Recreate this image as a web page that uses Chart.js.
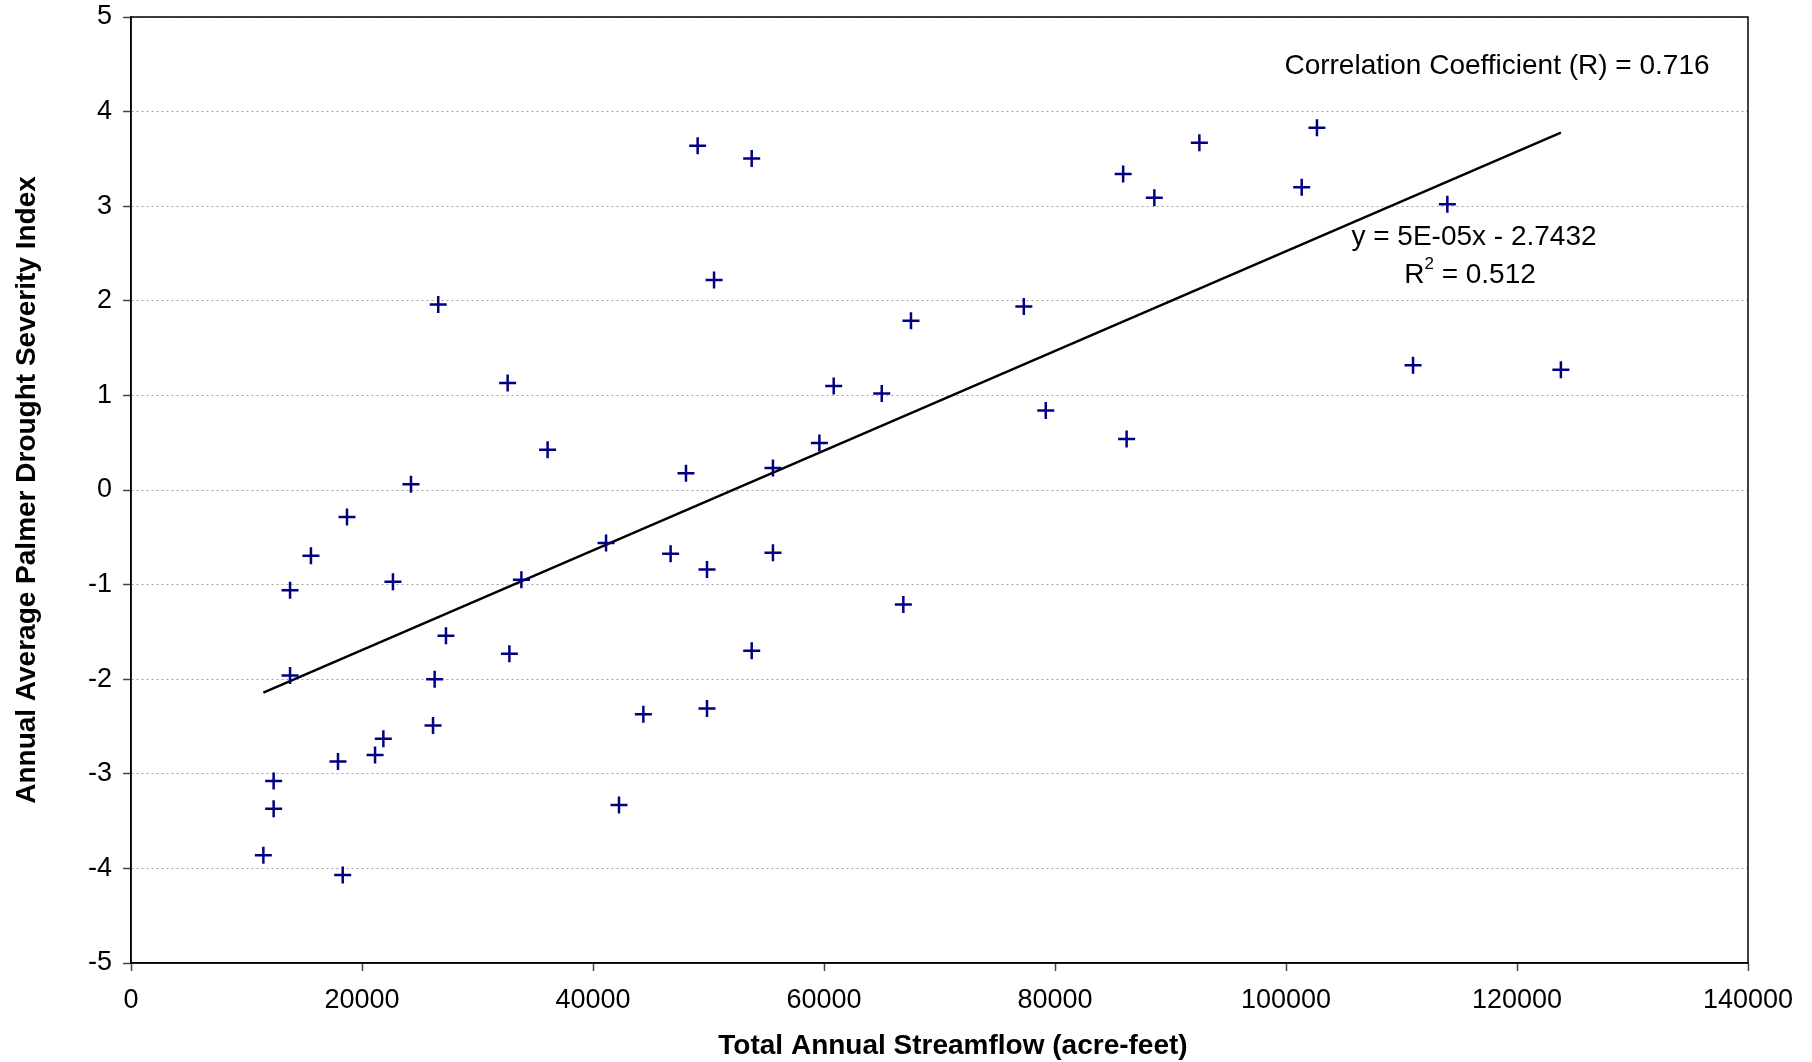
<!DOCTYPE html>
<html>
<head>
<meta charset="utf-8">
<script src="https://cdn.jsdelivr.net/npm/chart.js@4/dist/chart.umd.min.js"></script>
<style>
  html, body { margin: 0; padding: 0; background: #fff; }
  #wrap { width: 1812px; height: 1062px; position: relative; }
</style>
</head>
<body>
<div id="wrap"><canvas id="chart" width="1812" height="1062"></canvas></div>
<script>
// Total annual streamflow (acre-feet) for each year
const streamflow = [11460, 12350, 12350, 13770, 13770, 15580, 17920, 18330, 18700, 21130,
  21850, 22680, 24240, 26150, 26290, 26600, 27270, 32610, 32760, 33800,
  36070, 41130, 42250, 44360, 46720, 48050, 49060, 49870, 49870, 50480,
  53740, 53740, 55580, 55580, 59600, 60840, 65000, 66870, 67530, 77300,
  79200, 85900, 86200, 88600, 92500, 101360, 102680, 111000, 113970, 123800];

// Annual average Palmer Drought Severity Index for the same years
const pdsi = [-3.86, -3.075, -3.37, -1.06, -1.96, -0.695, -2.87, -4.07, -0.285, -2.80,
  -2.63, -0.97, 0.06, -2.49, -2.00, 1.96, -1.54, 1.13, -1.73, -0.95,
  0.425, -0.56, -3.33, -2.37, -0.675, 0.177, 3.64, -0.84, -2.31, 2.22,
  3.505, -1.70, 0.233, -0.664, 0.496, 1.10, 1.02, -1.21, 1.79, 1.94,
  0.84, 3.34, 0.54, 3.09, 3.67, 3.20, 3.83, 1.32, 3.02, 1.27];

const xTicks = [0, 20000, 40000, 60000, 80000, 100000, 120000, 140000];
const yTicks = [-5, -4, -3, -2, -1, 0, 1, 2, 3, 4, 5];

const FONT = '"Liberation Sans", Arial, sans-serif';

// Least squares fit of the points for the trendline
function linearFit(xs, ys) {
  const n = xs.length;
  const mx = xs.reduce((a, b) => a + b, 0) / n;
  const my = ys.reduce((a, b) => a + b, 0) / n;
  let sxy = 0, sxx = 0;
  for (let i = 0; i < n; i++) {
    sxy += (xs[i] - mx) * (ys[i] - my);
    sxx += (xs[i] - mx) * (xs[i] - mx);
  }
  const slope = sxy / sxx;
  return { slope, intercept: my - slope * mx };
}

const fit = linearFit(streamflow, pdsi);
const xMin = Math.min(...streamflow), xMax = Math.max(...streamflow);
const trend = [xMin, xMax].map(x => ({ x, y: fit.slope * x + fit.intercept }));
const points = streamflow.map((x, i) => ({ x, y: pdsi[i] }));

// Plot frame, x axis title and the text annotations
const frameAndNotes = {
  id: 'frameAndNotes',
  afterDraw(chart) {
    const { ctx, chartArea: a } = chart;
    ctx.save();
    ctx.strokeStyle = '#000';
    ctx.lineWidth = 1.5;
    ctx.strokeRect(a.left, a.top, a.right - a.left, a.bottom - a.top);

    ctx.fillStyle = '#000';
    ctx.textAlign = 'center';
    ctx.textBaseline = 'middle';
    ctx.font = 'bold 28px ' + FONT;
    ctx.fillText('Total Annual Streamflow (acre-feet)', 953, 1046);

    ctx.font = '28px ' + FONT;
    ctx.fillText('Correlation Coefficient (R) = 0.716', 1497, 66);
    ctx.fillText('y = 5E-05x - 2.7432', 1474, 237);

    // R² with superscript
    const base = 'R', rest = ' = 0.512';
    const wBase = ctx.measureText(base).width;
    const wRest = ctx.measureText(rest).width;
    ctx.font = '17px ' + FONT;
    const wSup = ctx.measureText('2').width;
    const total = wBase + wSup + wRest;
    let x = 1470 - total / 2;
    ctx.textAlign = 'left';
    ctx.font = '28px ' + FONT;
    ctx.fillText(base, x, 275);
    x += wBase;
    ctx.font = '17px ' + FONT;
    ctx.fillText('2', x, 264);
    x += wSup;
    ctx.font = '28px ' + FONT;
    ctx.fillText(rest, x, 275);
    ctx.restore();
  }
};

new Chart(document.getElementById('chart'), {
  type: 'scatter',
  data: {
    datasets: [
      {
        label: 'PDSI',
        data: points,
        pointStyle: 'cross',
        pointRadius: 8.5,
        pointHoverRadius: 8.5,
        pointBorderWidth: 2.5,
        borderColor: '#000080',
        backgroundColor: '#000080'
      },
      {
        label: 'Trend',
        data: trend,
        showLine: true,
        pointRadius: 0,
        borderColor: '#000',
        borderWidth: 2.5,
        fill: false
      }
    ]
  },
  options: {
    responsive: false,
    animation: false,
    events: [],
    layout: { padding: { left: 0, top: 17, right: 64, bottom: 0 } },
    plugins: {
      legend: { display: false },
      tooltip: { enabled: false }
    },
    scales: {
      x: {
        type: 'linear',
        min: 0,
        max: 140000,
        afterFit(scale) { scale.height = 99; },
        afterBuildTicks(scale) { scale.ticks = xTicks.map(v => ({ value: v })); },
        grid: { drawOnChartArea: false, drawTicks: true, tickLength: 8, tickColor: '#444', tickWidth: 1.5 },
        border: { color: '#000', width: 1.5 },
        ticks: {
          color: '#000',
          padding: 13,
          maxRotation: 0,
          font: { family: FONT, size: 27 },
          callback: v => String(v)
        },
        title: { display: false }
      },
      y: {
        type: 'linear',
        min: -5,
        max: 5,
        afterFit(scale) {
          scale.width = 131;
          scale.paddingTop = 0;
          scale.paddingBottom = 0;
        },
        afterBuildTicks(scale) { scale.ticks = yTicks.map(v => ({ value: v })); },
        grid: { color: '#a0a0a0', lineWidth: 1, drawTicks: true, tickLength: 8, tickColor: '#444', tickWidth: 1.5 },
        border: { color: '#000', width: 1.5, dash: [2, 3] },
        ticks: {
          color: '#000',
          padding: 11,
          font: { family: FONT, size: 27 },
          callback: v => String(v)
        },
        title: {
          display: true,
          text: 'Annual Average Palmer Drought Severity Index',
          color: '#000',
          font: { family: FONT, size: 28, weight: 'bold' },
          padding: { top: 10, bottom: 0 }
        }
      }
    }
  },
  plugins: [frameAndNotes]
});
</script>
</body>
</html>
